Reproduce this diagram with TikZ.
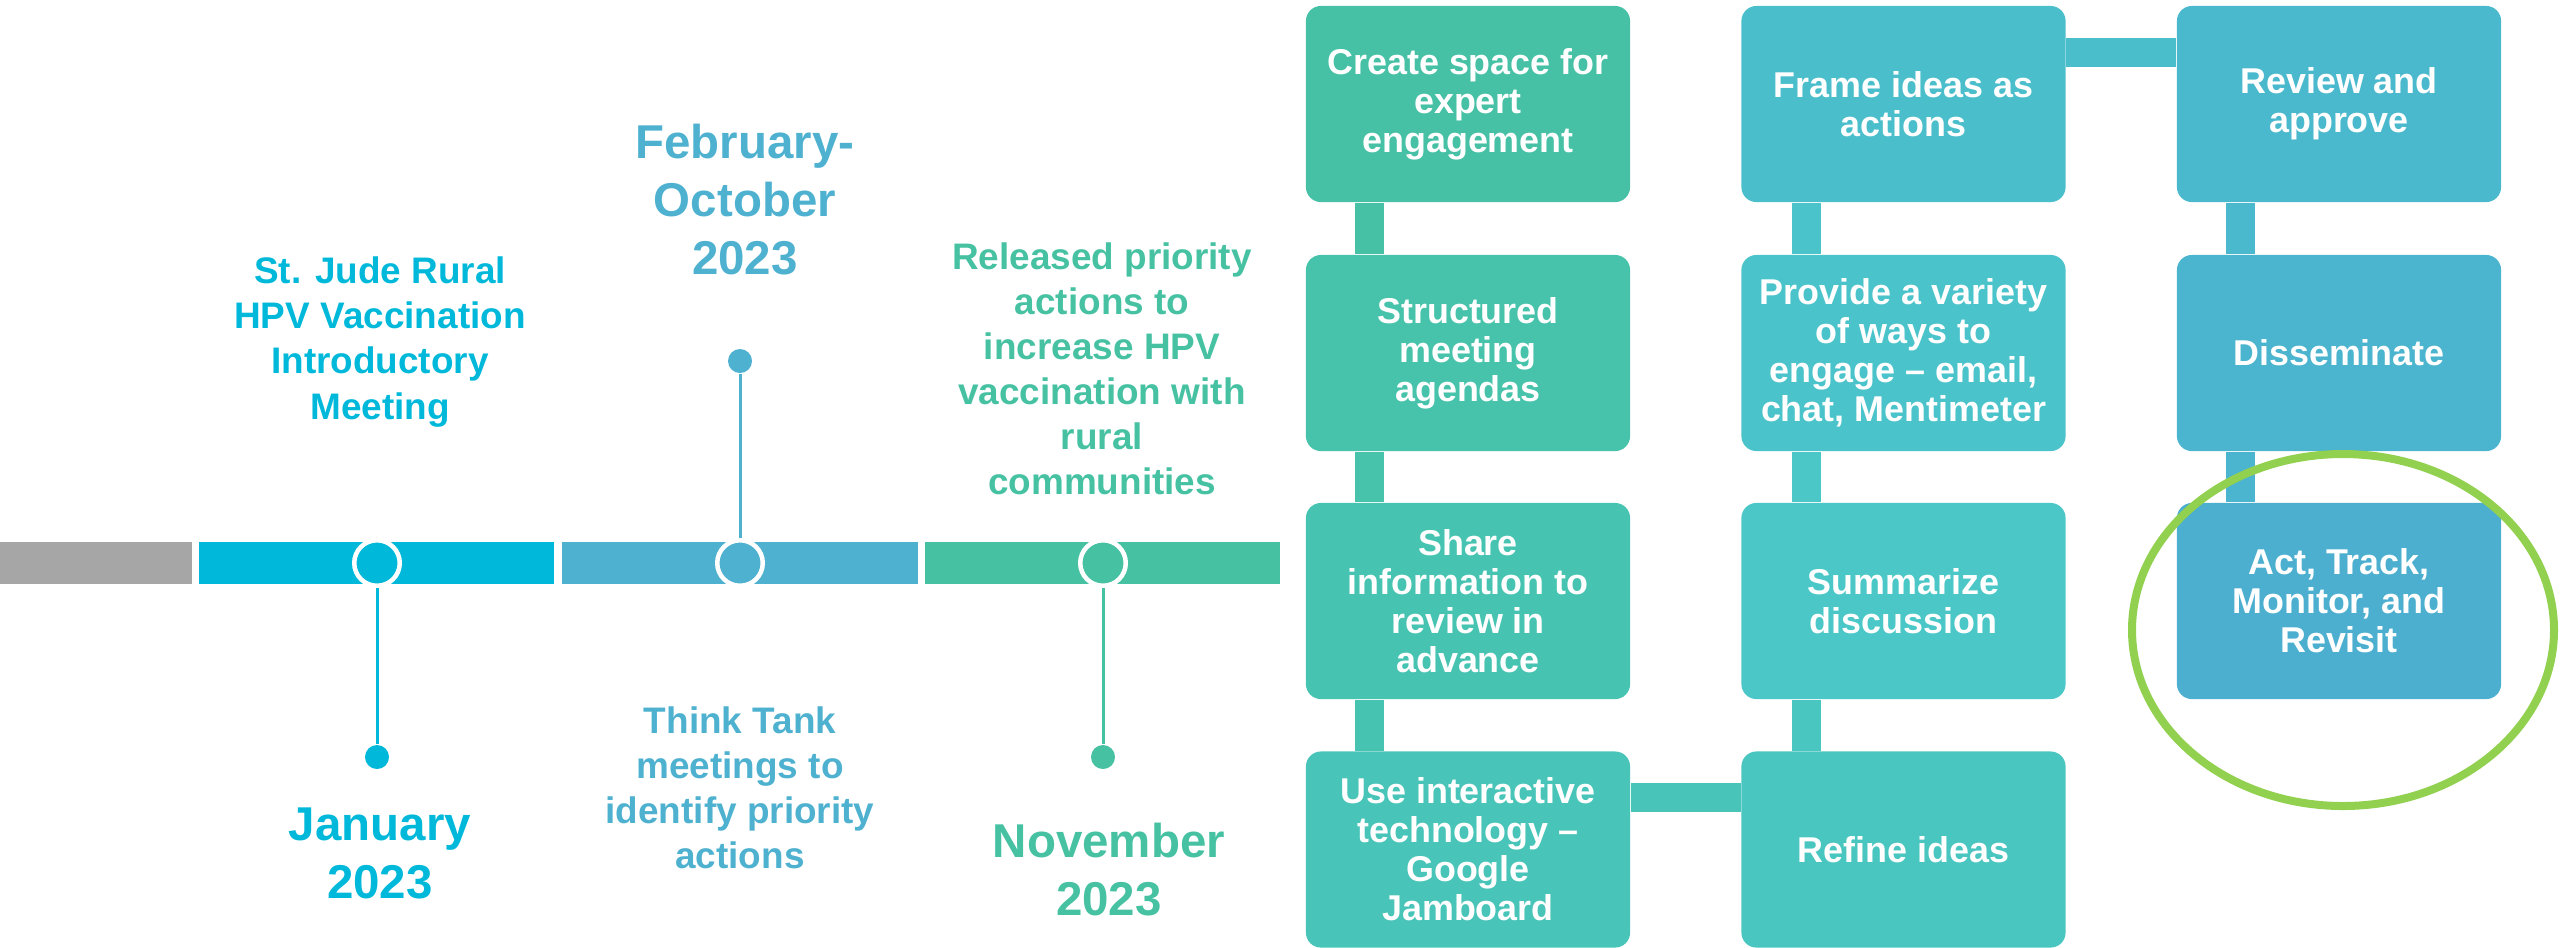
\documentclass[tikz,border=0pt]{standalone}
\usepackage{fontspec}
\setmainfont{Liberation Sans}
\definecolor{tgray}{HTML}{A6A6A6}
\definecolor{tcyan}{HTML}{00B8D9}
\definecolor{tblue}{HTML}{4EB1CF}
\definecolor{tgreen}{HTML}{46C1A2}
\definecolor{bA}{HTML}{46C1A5}
\definecolor{bB}{HTML}{46C3AA}
\definecolor{bC}{HTML}{47C4B1}
\definecolor{bD}{HTML}{48C5B8}
\definecolor{bE}{HTML}{4AC6C1}
\definecolor{bF}{HTML}{4BC7C8}
\definecolor{bG}{HTML}{4BC3CB}
\definecolor{bH}{HTML}{4BBECC}
\definecolor{bI}{HTML}{4BB9CD}
\definecolor{bJ}{HTML}{4BB4CE}
\definecolor{bK}{HTML}{4CAFD0}
\definecolor{ring}{HTML}{92D050}
\tikzset{
  box/.style={rounded corners=0.15cm, minimum width=3.24cm, minimum height=1.96cm,
    text=white, font=\bfseries\fontsize{10.2}{11.1}\selectfont, align=center, inner sep=0pt},
  tlcircle/.style={circle, draw=white, line width=0.045cm, minimum size=0.455cm, inner sep=0pt},
  tldot/.style={circle, minimum size=0.24cm, inner sep=0pt},
  stem/.style={line width=0.03cm},
  tltext/.style={font=\bfseries\fontsize{10.5}{12.8}\selectfont, align=center},
  tldate/.style={font=\bfseries\fontsize{13.5}{16.5}\selectfont, align=center}
}
\begin{document}
\begin{tikzpicture}[x=0.01cm, y=-0.01cm]
\useasboundingbox (0,0) rectangle (2560,947);
% timeline bar
\fill[tgray] (0,542) rectangle (192,584);
\fill[tcyan] (199,542) rectangle (554,584);
\fill[tblue] (562,542) rectangle (918,584);
\fill[tgreen] (925,542) rectangle (1280,584);
% markers
\node[tldot, fill=tcyan] (d1) at (377,757) {};
\node[tldot, fill=tblue] (d2) at (740,361) {};
\node[tldot, fill=tgreen] (d3) at (1103,757) {};
\node[tlcircle, fill=tcyan] (c1) at (377,563) {};
\node[tlcircle, fill=tblue] (c2) at (740,563) {};
\node[tlcircle, fill=tgreen] (c3) at (1103,563) {};
\draw[stem, tcyan] (c1) -- (d1);
\draw[stem, tblue] (c2) -- (d2);
\draw[stem, tgreen] (c3) -- (d3);
% timeline texts
\node[tltext, text=tcyan] (t1) at (380,342) {St. Jude Rural\\HPV Vaccination\\Introductory\\Meeting};
\node[tldate, text=tcyan] (t2) at (380,853) {January\\2023};
\node[tldate, text=tblue] (t3) at (745,200) {February-\\October\\2023};
\node[tltext, text=tblue] (t4) at (740,788) {Think Tank\\meetings to\\identify priority\\actions};
\node[tltext, text=tgreen] (t5) at (1102,369) {Released priority\\actions to\\increase HPV\\vaccination with\\rural\\communities};
\node[tldate, text=tgreen] (t6) at (1109,870) {November\\2023};
% boxes
\node[box, fill=bA] (b1) at (1468,104) {Create space for\\expert\\engagement};
\node[box, fill=bB] (b2) at (1468,353) {Structured\\meeting\\agendas};
\node[box, fill=bC] (b3) at (1468,601) {Share\\information to\\review in\\advance};
\node[box, fill=bD] (b4) at (1468,849.5) {Use interactive\\technology --\\Google\\Jamboard};
\node[box, fill=bE] (b5) at (1903.5,849.5) {Refine ideas};
\node[box, fill=bF] (b6) at (1903.5,601) {Summarize\\discussion};
\node[box, fill=bG] (b7) at (1903.5,353) {Provide a variety\\of ways to\\engage -- email,\\chat, Mentimeter};
\node[box, fill=bH] (b8) at (1903.5,104) {Frame ideas as\\actions};
\node[box, fill=bI] (b9) at (2339,104) {Review and\\approve};
\node[box, fill=bJ] (b10) at (2339,353) {Disseminate};
\node[box, fill=bK] (b11) at (2339,601) {Act, Track,\\Monitor, and\\Revisit};
% connectors
\fill[bA] ([xshift=0.5cm]b1.south west) rectangle ([xshift=0.79cm]b2.north west);
\fill[bB] ([xshift=0.5cm]b2.south west) rectangle ([xshift=0.79cm]b3.north west);
\fill[bC] ([xshift=0.5cm]b3.south west) rectangle ([xshift=0.79cm]b4.north west);
\fill[bD] ([yshift=-0.32cm]b4.north east) rectangle ([yshift=-0.61cm]b5.north west);
\fill[bE] ([xshift=0.51cm]b6.south west) rectangle ([xshift=0.80cm]b5.north west);
\fill[bF] ([xshift=0.51cm]b7.south west) rectangle ([xshift=0.80cm]b6.north west);
\fill[bG] ([xshift=0.51cm]b8.south west) rectangle ([xshift=0.80cm]b7.north west);
\fill[bH] ([yshift=-0.33cm]b8.north east) rectangle ([yshift=-0.62cm]b9.north west);
\fill[bI] ([xshift=0.5cm]b9.south west) rectangle ([xshift=0.79cm]b10.north west);
\fill[bJ] ([xshift=0.5cm]b10.south west) rectangle ([xshift=0.79cm]b11.north west);
% highlight ring
\draw[ring, line width=0.08cm] (b11.center) ++(4,29) ellipse [x radius=211, y radius=176];
\end{tikzpicture}
\end{document}
